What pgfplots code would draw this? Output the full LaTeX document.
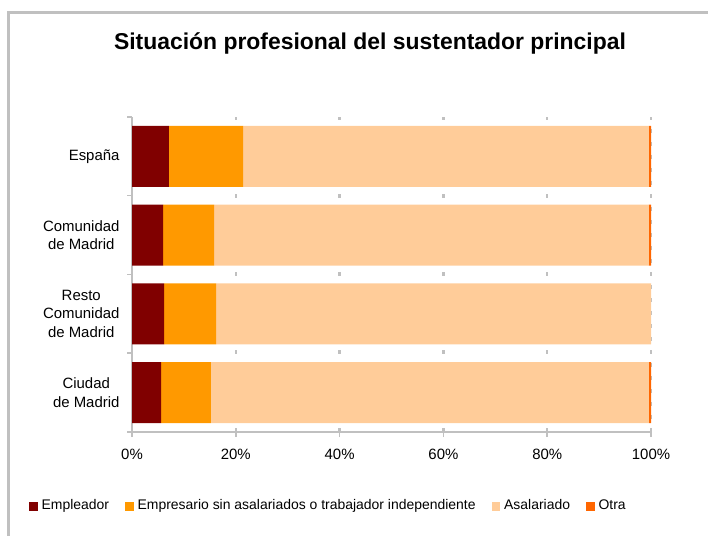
\documentclass[border=0pt]{standalone}
\usepackage{pgfplots}
\pgfplotsset{compat=1.18}
\usepackage{fontspec}
\setmainfont{Liberation Sans}
\definecolor{cA}{HTML}{800000}
\definecolor{cB}{HTML}{FF9900}
\definecolor{cC}{HTML}{FFCC99}
\definecolor{cD}{HTML}{FF6600}
\definecolor{frame}{HTML}{C0C0C0}
\begin{document}
\begin{tikzpicture}
\useasboundingbox (0bp,0bp) rectangle (708bp,536bp);
\draw[color=frame, line width=3bp] (8bp,-20bp) -- (8bp,523bp) -- (740bp,523bp);
\node[font=\bfseries\fontsize{23}{27}\selectfont] at (370bp,493bp) {Situación profesional del sustentador principal};
\begin{axis}[
  at={(132bp,104bp)}, anchor=south west,
  width=519bp, height=315bp, scale only axis,
  xbar stacked, bar width=61bp,
  xmin=0, xmax=100, ymin=-0.5, ymax=3.5,
  axis x line*=bottom, axis y line*=left,
  axis line style={-, draw=frame, line width=1.5bp},
  tick align=outside, major tick length=5bp,
  tick style={draw=frame, line width=1.5bp},
  xtick={0,20,...,100},
  xticklabel={\pgfmathprintnumber{\tick}\%},
  /pgf/number format/assume math mode=true,
  xmajorgrids,
  major grid style={draw=frame, line width=2.5bp, dash pattern=on 4bp off 9bp},
  ytick={-0.5,0.5,1.5,2.5,3.5}, yticklabels={},
  extra y ticks={0,1,2,3},
  extra y tick labels={Ciudad\\de Madrid, Resto\\Comunidad\\de Madrid, Comunidad\\de Madrid, España},
  extra y tick style={major tick length=0pt},
  ticklabel style={font=\fontsize{15}{19}\selectfont},
  yticklabel style={align=center, xshift=-9bp},
  xticklabel style={yshift=-9bp},
  legend columns=4,
  legend style={at={(axis description cs:-0.1985,-0.237)}, anchor=west, draw=none, inner sep=0pt,
    font=\fontsize{14}{16}\selectfont,
    nodes={text height=1.6ex, text depth=0.45ex},
    /tikz/every odd column/.append style={column sep=2bp},
    /tikz/every even column/.append style={column sep=14bp}},
  legend image code/.code={\fill[#1] (0bp,-4.5bp) rectangle (8.5bp,4.5bp);},
]
\addplot[fill=cA, draw=none] coordinates {(5.6,0) (6.2,1) (6.0,2) (7.1,3)};
\addplot[fill=cB, draw=none] coordinates {(9.6,0) (10.0,1) (9.8,2) (14.3,3)};
\addplot[fill=cC, draw=none] coordinates {(84.4,0) (83.8,1) (83.8,2) (78.2,3)};
\addplot[fill=cD, draw=none] coordinates {(0.4,0) (0.0,1) (0.4,2) (0.4,3)};
\legend{Empleador, Empresario sin asalariados o trabajador independiente, Asalariado, Otra}
\end{axis}
\end{tikzpicture}
\end{document}
